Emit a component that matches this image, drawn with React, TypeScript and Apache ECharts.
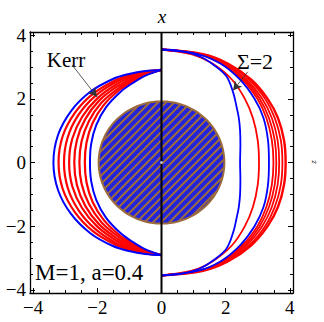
import React, { useEffect, useRef } from "react";
import * as echarts from "echarts";

// ---- axes ----
const X_MIN = -4.1;
const X_MAX = 4.1;
const Y_MIN = -4.1;
const Y_MAX = 4.1;
const MAJOR_TICKS = [-4, -2, 0, 2, 4];
const MINOR_TICKS = [-4, -3.5, -3, -2.5, -2, -1.5, -1, -0.5, 0, 0.5, 1, 1.5, 2, 2.5, 3, 3.5, 4];

// ---- Kerr (left half): radius read at polar angles (deg from +z axis), mirrored about z=0 ----
const KERR_ANGLES = [0, 10, 20, 30, 45, 60, 75, 90];
const KERR_OUTER_BLUE = [2.91, 2.92, 2.96, 3.03, 3.14, 3.25, 3.34, 3.37];
const KERR_RED_1 = [2.91, 2.9, 2.92, 2.96, 3.04, 3.12, 3.19, 3.21];
const KERR_RED_2 = [2.91, 2.88, 2.87, 2.9, 2.94, 2.99, 3.03, 3.04];
const KERR_RED_3 = [2.91, 2.86, 2.83, 2.83, 2.84, 2.86, 2.88, 2.88];
const KERR_RED_4 = [2.91, 2.84, 2.78, 2.76, 2.75, 2.74, 2.73, 2.72];
const KERR_RED_5 = [2.91, 2.82, 2.74, 2.69, 2.65, 2.61, 2.58, 2.56];
const KERR_RED_6 = [2.91, 2.8, 2.69, 2.63, 2.55, 2.48, 2.42, 2.39];
const KERR_INNER_BLUE = [2.91, 2.78, 2.65, 2.56, 2.45, 2.35, 2.27, 2.23];

// ---- Sigma = 2 (right half): upper-half points (x, z) from pole to equator, mirrored ----
const SIGMA_BLUE_IN: number[][] = [[0, 3.55], [0.6, 3.5], [1.2, 3.33], [1.65, 3.05], [2.03, 2.7], [2.24, 2.18], [2.34, 1.75], [2.41, 1.4], [2.45, 1.0], [2.46, 0.55], [2.45, 0]];
const SIGMA_RED_IN: number[][] = [[0, 3.55], [0.95, 3.4], [1.6, 3.1], [2.2, 2.6], [2.6, 2.0], [2.85, 1.4], [3.0, 0.7], [3.04, 0]];
const SIGMA_BLUE_OUT: number[][] = [[0, 3.55], [1.15, 3.4], [1.85, 3.1], [2.45, 2.6], [2.9, 2.0], [3.18, 1.4], [3.32, 0.7], [3.35, 0]];
const SIGMA_RED_B1: number[][] = [[0, 3.55], [1.17, 3.4], [1.87, 3.1], [2.52, 2.6], [2.99, 2.0], [3.27, 1.4], [3.44, 0.7], [3.49, 0]];
const SIGMA_RED_B2: number[][] = [[0, 3.55], [1.2, 3.4], [1.92, 3.1], [2.59, 2.6], [3.06, 2.0], [3.35, 1.4], [3.53, 0.7], [3.58, 0]];
const SIGMA_RED_B3: number[][] = [[0, 3.55], [1.23, 3.4], [1.97, 3.1], [2.65, 2.6], [3.14, 2.0], [3.44, 1.4], [3.62, 0.7], [3.67, 0]];
const SIGMA_RED_B4: number[][] = [[0, 3.55], [1.26, 3.4], [2.02, 3.1], [2.73, 2.6], [3.23, 2.0], [3.53, 1.4], [3.72, 0.7], [3.77, 0]];
const SIGMA_RED_B5: number[][] = [[0, 3.55], [1.3, 3.4], [2.08, 3.1], [2.8, 2.6], [3.31, 2.0], [3.63, 1.4], [3.82, 0.7], [3.87, 0]];

// ---- horizon disk ----
const HORIZON_RX = 1.96;
const HORIZON_RZ = 1.92;

// ---- annotations (data coords) ----
const KERR_ARROW = [[-2.79, 3.07], [-2.01, 2.06]];
const SIGMA_ARROW = [[2.69, 2.85], [2.23, 2.26]];

const RED = "#ff0000";
const BLUE = "#0000ff";
const DISK_BLUE = "#2323dc";
const BROWN = "#9c6c3c";
const FONT = "Liberation Serif";

function kerrCurve(radii: number[]): number[][] {
  const pts: number[][] = [];
  for (let i = 0; i < KERR_ANGLES.length; i++) {
    const t = (KERR_ANGLES[i] * Math.PI) / 180;
    pts.push([-radii[i] * Math.sin(t), radii[i] * Math.cos(t)]);
  }
  for (let i = KERR_ANGLES.length - 2; i >= 0; i--) {
    const t = (KERR_ANGLES[i] * Math.PI) / 180;
    pts.push([-radii[i] * Math.sin(t), -radii[i] * Math.cos(t)]);
  }
  return pts;
}

function mirrorCurve(upper: number[][]): number[][] {
  const pts = upper.map((p) => [p[0], p[1]]);
  for (let i = upper.length - 2; i >= 0; i--) pts.push([upper[i][0], -upper[i][1]]);
  return pts;
}

function curveSeries(data: number[][], color: string, width: number) {
  return {
    type: "line",
    data,
    showSymbol: false,
    symbol: "none",
    smooth: 0.35,
    silent: true,
    lineStyle: { color, width },
    z: 3,
  };
}

const tickFmt = (v: number) => (v < 0 ? "\u2212" + Math.abs(v) : String(v));

function makeXAxis(position: string, values: number[], len: number, labels: boolean, line: boolean) {
  return {
    type: "value",
    min: X_MIN,
    max: X_MAX,
    position,
    splitLine: { show: false },
    axisLine: { show: line, onZero: false, lineStyle: { color: "#000", width: 1.3 } },
    axisTick: { show: true, inside: true, length: len, customValues: values, lineStyle: { color: "#000", width: 1 } },
    axisLabel: labels
      ? { show: true, customValues: values, formatter: tickFmt, fontFamily: FONT, fontSize: 19, color: "#000", margin: 5 }
      : { show: false },
  };
}

function makeYAxis(position: string, values: number[], len: number, labels: boolean, line: boolean) {
  return {
    type: "value",
    min: Y_MIN,
    max: Y_MAX,
    position,
    splitLine: { show: false },
    axisLine: { show: line, onZero: false, lineStyle: { color: "#000", width: 1.3 } },
    axisTick: { show: true, inside: true, length: len, customValues: values, lineStyle: { color: "#000", width: 1 } },
    axisLabel: labels
      ? { show: true, customValues: values, formatter: tickFmt, fontFamily: FONT, fontSize: 19, color: "#000", margin: 4 }
      : { show: false },
  };
}

export default function App() {
  const ref = useRef<HTMLDivElement>(null);
  useEffect(() => {
    if (!ref.current) return;
    const chart = echarts.init(ref.current, undefined, { renderer: "svg" });

    const diskSeries = {
      type: "custom",
      data: [[0, 0]],
      silent: true,
      z: 2,
      renderItem: (_params: any, api: any) => {
        const c = api.coord([0, 0]);
        const px = api.coord([HORIZON_RX, 0])[0] - c[0];
        const py = c[1] - api.coord([0, HORIZON_RZ])[1];
        const pts: number[][] = [];
        for (let i = 0; i < 144; i++) {
          const t = (i / 144) * Math.PI * 2;
          pts.push([c[0] + px * Math.cos(t), c[1] + py * Math.sin(t)]);
        }
        const children: any[] = [
          { type: "polygon", shape: { points: pts }, style: { fill: DISK_BLUE, stroke: null } },
        ];
        const step = 8.2;
        const kmax = Math.sqrt(px * px + py * py);
        const A = 1 / (px * px) + 1 / (py * py);
        for (let k = -Math.floor(kmax / step) * step + 2; k <= kmax; k += step) {
          const B = (-2 * k) / (py * py);
          const C = (k * k) / (py * py) - 1;
          const D = B * B - 4 * A * C;
          if (D <= 0) continue;
          const u1 = (-B - Math.sqrt(D)) / (2 * A);
          const u2 = (-B + Math.sqrt(D)) / (2 * A);
          children.push({
            type: "line",
            shape: { x1: c[0] + u1, y1: c[1] + k - u1, x2: c[0] + u2, y2: c[1] + k - u2 },
            style: { stroke: BROWN, lineWidth: 2 },
          });
        }
        children.push({ type: "polygon", shape: { points: pts }, style: { fill: "none", stroke: BROWN, lineWidth: 2 } });
        return { type: "group", children };
      },
    };

    const series: any[] = [
      diskSeries,
      curveSeries(kerrCurve(KERR_RED_1), RED, 2.2),
      curveSeries(kerrCurve(KERR_RED_2), RED, 2.2),
      curveSeries(kerrCurve(KERR_RED_3), RED, 2.2),
      curveSeries(kerrCurve(KERR_RED_4), RED, 2.2),
      curveSeries(kerrCurve(KERR_RED_5), RED, 2.2),
      curveSeries(kerrCurve(KERR_RED_6), RED, 2.2),
      curveSeries(kerrCurve(KERR_OUTER_BLUE), BLUE, 2),
      curveSeries(kerrCurve(KERR_INNER_BLUE), BLUE, 2),
      curveSeries(mirrorCurve(SIGMA_RED_IN), RED, 1.8),
      curveSeries(mirrorCurve(SIGMA_RED_B1), RED, 1.8),
      curveSeries(mirrorCurve(SIGMA_RED_B2), RED, 1.8),
      curveSeries(mirrorCurve(SIGMA_RED_B3), RED, 1.8),
      curveSeries(mirrorCurve(SIGMA_RED_B4), RED, 1.8),
      curveSeries(mirrorCurve(SIGMA_RED_B5), RED, 2.4),
      curveSeries(mirrorCurve(SIGMA_BLUE_IN), BLUE, 1.8),
      curveSeries(mirrorCurve(SIGMA_BLUE_OUT), BLUE, 1.8),
      {
        type: "line",
        data: [[0, Y_MIN], [0, Y_MAX]],
        showSymbol: false,
        symbol: "none",
        silent: true,
        lineStyle: { color: "#000", width: 2 },
        z: 5,
        markLine: {
          silent: true,
          symbol: ["none", "arrow"],
          symbolSize: [7, 9],
          label: { show: false },
          lineStyle: { color: "#333", width: 0.8, type: "solid" },
          data: [
            [{ coord: KERR_ARROW[0] }, { coord: KERR_ARROW[1] }],
            [{ coord: SIGMA_ARROW[0] }, { coord: SIGMA_ARROW[1] }],
          ],
        },
      },
      {
        type: "scatter",
        data: [[0, 0]],
        symbolSize: 3,
        silent: true,
        itemStyle: { color: "#e8e8f0" },
        z: 6,
      },
    ];

    chart.setOption({
      animation: false,
      backgroundColor: "#fff",
      grid: { left: 30, right: 31, top: 32, bottom: 29, outerBoundsMode: "none" },
      xAxis: [
        makeXAxis("bottom", MAJOR_TICKS, 5, true, true),
        makeXAxis("bottom", MINOR_TICKS, 3, false, false),
        makeXAxis("top", MAJOR_TICKS, 5, false, true),
        makeXAxis("top", MINOR_TICKS, 3, false, false),
      ],
      yAxis: [
        makeYAxis("left", MAJOR_TICKS, 5, true, true),
        makeYAxis("left", MINOR_TICKS, 3, false, false),
        makeYAxis("right", MAJOR_TICKS, 5, false, true),
        makeYAxis("right", MINOR_TICKS, 3, false, false),
      ],
      series,
      graphic: [
        { type: "text", x: 162, y: 16, style: { text: "x", fontFamily: FONT, fontStyle: "italic", fontSize: 19, fill: "#000", align: "center", verticalAlign: "middle" } },
        { type: "text", x: 313, y: 162, rotation: Math.PI / 2, style: { text: "z", fontFamily: FONT, fontStyle: "italic", fontSize: 9, fill: "#000", align: "center", verticalAlign: "middle" } },
        { type: "text", x: 66, y: 60, style: { text: "Kerr", fontFamily: FONT, fontSize: 21, fill: "#000", align: "center", verticalAlign: "middle" } },
        { type: "text", x: 255, y: 61, style: { text: "\u03A3=2", fontFamily: FONT, fontSize: 22, fill: "#000", align: "center", verticalAlign: "middle" } },
        { type: "text", x: 35, y: 272, style: { text: "M=1, a=0.4", fontFamily: FONT, fontSize: 23, fill: "#000", align: "left", verticalAlign: "middle" } },
      ],
    });
    return () => chart.dispose();
  }, []);
  return <div ref={ref} style={{ position: "fixed", left: 0, top: 0, width: 324, height: 322 }} />;
}
